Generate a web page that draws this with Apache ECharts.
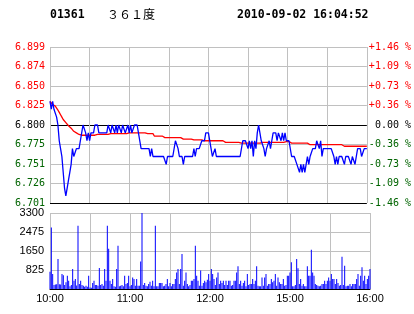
<!DOCTYPE html>
<html><head><meta charset="utf-8">
<script src="https://cdn.jsdelivr.net/npm/echarts@6/dist/echarts.min.js"></script>
<style>html,body{margin:0;padding:0;background:#fff}#c{width:414px;height:314px}</style>
</head><body><div id="c"></div>
<script>
const stockCode = '01361';
const stockName = '３６１度';
const timestamp = '2010-09-02 16:04:52';
const prevClose = 6.80;
const rowStep = 0.02475;
const priceLabels = ['6.701','6.726','6.751','6.775','6.800','6.825','6.850','6.874','6.899'];
const pctLabels = ['-1.46 %','-1.09 %','-0.73 %','-0.36 %',' 0.00 %','+0.36 %','+0.73 %','+1.09 %','+1.46 %'];
const volLabels = ['', '825', '1650', '2475', '3300'];
const timeLabels = ['10:00','','11:00','','12:00','','15:00','','16:00'];

const price = [
 6.83,6.82,6.83,6.82,6.82,6.81,6.80,6.78,6.77,6.76,
 6.74,6.72,6.71,6.72,6.73,6.74,6.75,6.77,6.76,6.76,
 6.77,6.77,6.77,6.78,6.79,6.80,6.80,6.79,6.78,6.79,
 6.78,6.79,6.79,6.79,6.80,6.80,6.80,6.79,6.79,6.79,
 6.79,6.79,6.79,6.79,6.80,6.80,6.79,6.80,6.80,6.79,
 6.80,6.79,6.80,6.80,6.79,6.80,6.80,6.79,6.79,6.80,
 6.79,6.80,6.79,6.79,6.80,6.80,6.80,6.79,6.78,6.77,
 6.77,6.77,6.77,6.77,6.77,6.77,6.76,6.77,6.76,6.76,
 6.76,6.76,6.76,6.76,6.76,6.76,6.76,6.76,6.75,6.76,
 6.76,6.76,6.76,6.76,6.76,6.78,6.78,6.77,6.76,6.76,
 6.76,6.75,6.76,6.76,6.76,6.76,6.76,6.76,6.76,6.77,
 6.76,6.77,6.77,6.77,6.77,6.78,6.78,6.78,6.79,6.79,
 6.79,6.78,6.77,6.76,6.76,6.77,6.76,6.76,6.76,6.76,
 6.76,6.76,6.76,6.76,6.76,6.76,6.76,6.76,6.76,6.76,
 6.76,6.76,6.76,6.76,6.76,6.76,6.78,6.78,6.78,6.78,
 6.77,6.78,6.77,6.78,6.76,6.78,6.77,6.79,6.80,6.79,
 6.78,6.78,6.77,6.76,6.77,6.77,6.78,6.77,6.78,6.79,
 6.79,6.79,6.78,6.79,6.79,6.78,6.79,6.78,6.79,6.78,
 6.78,6.78,6.78,6.76,6.76,6.76,6.76,6.75,6.75,6.74,
 6.75,6.74,6.75,6.74,6.75,6.76,6.75,6.76,6.76,6.77,
 6.77,6.77,6.78,6.78,6.77,6.78,6.76,6.77,6.77,6.77,
 6.77,6.77,6.77,6.77,6.77,6.76,6.75,6.76,6.75,6.76,
 6.76,6.76,6.76,6.75,6.76,6.76,6.76,6.76,6.75,6.76,
 6.76,6.75,6.76,6.77,6.77,6.77,6.76,6.76,6.77,6.77,6.77
];

const avgPrice = [
 6.830,6.828,6.826,6.825,6.824,6.822,6.819,6.816,6.813,6.810,
 6.807,6.805,6.803,6.801,6.799,6.797,6.796,6.794,6.792,6.791,
 6.790,6.789,6.788,6.787,6.787,6.787,6.787,6.787,6.787,6.787,
 6.787,6.787,6.787,6.787,6.787,6.787,6.788,6.788,6.788,6.788,
 6.788,6.788,6.788,6.788,6.788,6.789,6.789,6.789,6.789,6.789,
 6.789,6.789,6.789,6.789,6.789,6.789,6.789,6.789,6.789,6.790,
 6.790,6.790,6.790,6.790,6.790,6.790,6.790,6.790,6.790,6.790,
 6.790,6.790,6.790,6.789,6.789,6.789,6.789,6.789,6.789,6.786,
 6.786,6.786,6.786,6.786,6.786,6.786,6.786,6.784,6.784,6.784,
 6.784,6.784,6.784,6.784,6.784,6.784,6.784,6.784,6.784,6.784,
 6.784,6.782,6.782,6.782,6.782,6.782,6.782,6.782,6.781,6.781,
 6.781,6.781,6.781,6.781,6.781,6.781,6.780,6.780,6.780,6.780,
 6.780,6.780,6.780,6.780,6.780,6.780,6.780,6.780,6.780,6.780,
 6.780,6.780,6.778,6.778,6.778,6.778,6.778,6.778,6.778,6.778,
 6.778,6.778,6.778,6.778,6.778,6.777,6.777,6.777,6.777,6.777,
 6.777,6.777,6.777,6.777,6.777,6.777,6.777,6.777,6.777,6.777,
 6.777,6.778,6.778,6.778,6.778,6.778,6.778,6.778,6.778,6.778,
 6.778,6.778,6.778,6.778,6.778,6.778,6.778,6.778,6.779,6.779,
 6.779,6.779,6.779,6.777,6.777,6.777,6.777,6.777,6.777,6.777,
 6.777,6.777,6.777,6.777,6.777,6.777,6.777,6.775,6.775,6.775,
 6.775,6.775,6.775,6.775,6.775,6.775,6.775,6.775,6.775,6.775,
 6.775,6.775,6.775,6.775,6.775,6.775,6.775,6.775,6.775,6.775,
 6.775,6.775,6.775,6.773,6.773,6.773,6.773,6.773,6.773,6.773,
 6.773,6.773,6.773,6.773,6.773,6.773,6.773,6.773,6.773,6.773,6.773
];

const volume = [
 750,2670,650,170,200,210,1300,210,200,650,
 600,170,290,580,360,120,170,870,360,430,
 150,2750,220,360,170,140,100,140,100,580,
 70,50,260,360,170,170,140,910,170,220,
 140,870,360,2750,1750,360,220,430,120,100,
 870,1880,120,140,170,120,580,220,260,580,
 120,170,500,430,140,430,140,140,1190,3300,
 170,260,140,120,220,320,140,360,120,2750,
 120,120,260,260,260,120,140,220,430,120,
 260,120,220,220,430,720,870,220,870,1520,
 140,360,720,220,120,170,360,360,430,1880,
 580,360,140,800,140,260,360,290,400,650,
 360,870,650,430,170,500,720,220,360,260,
 360,170,360,170,360,360,140,170,360,360,
 720,985,220,360,140,260,360,120,650,170,
 220,220,430,220,360,985,140,120,120,500,
 140,500,650,140,220,220,430,290,360,650,
 140,500,290,220,220,430,140,170,580,580,
 720,1160,120,120,170,1300,900,220,430,140,
 220,120,120,985,580,580,1700,720,580,220,
 170,140,120,140,220,220,360,220,360,500,
 360,650,430,430,220,430,260,140,170,1400,
 170,1010,120,140,140,220,120,220,220,220,
 430,650,140,580,940,360,580,220,430,580,870
];

const RED = '#ff0000', GREEN = '#006400', GRAY = '#c0c0c0';
const toRow = p => (p - prevClose) / rowStep;
const priceData = price.map((p, i) => [i, toRow(p)]);
const avgData = avgPrice.map((p, i) => [i, toRow(p)]);
const volData = volume.map((v, i) => [i, v]);
const rowColor = v => { v = Number(v); return v > 0.01 ? RED : (v < -0.01 ? GREEN : '#000'); };
const monoFont = { fontFamily: 'DejaVu Sans Mono', fontSize: 10 };

const chart = echarts.init(document.getElementById('c'), null, { renderer: 'canvas' });
chart.setOption({
  animation: false,
  backgroundColor: '#fff',
  graphic: [
    { type: 'text', left: 50, top: 9, style: { text: stockCode, font: 'bold 11.5px "DejaVu Sans Mono"', fill: '#000' } },
    { type: 'text', left: 107, top: 8, style: { text: stockName, font: '12px "Noto Sans CJK SC"', fill: '#000' } },
    { type: 'text', left: 237, top: 9, style: { text: timestamp, font: 'bold 11.5px "DejaVu Sans Mono"', fill: '#000' } }
  ],
  grid: [
    { left: 50, top: 47, width: 320, height: 156 },
    { left: 50, top: 213, width: 320, height: 76 }
  ],
  xAxis: [
    { type: 'value', gridIndex: 0, min: 0, max: 240, interval: 30,
      axisLine: { show: false }, axisTick: { show: false }, axisLabel: { show: false },
      splitLine: { show: true, lineStyle: { color: GRAY, width: 1 } } },
    { type: 'value', gridIndex: 1, min: 0, max: 240, interval: 30,
      axisLine: { show: true, lineStyle: { color: '#000', width: 1 } }, axisTick: { show: false },
      axisLabel: { show: true, margin: 4, color: '#000', fontFamily: 'Liberation Sans', fontSize: 11,
        formatter: v => timeLabels[Math.round(v / 30)] || '' , showMinLabel: true, showMaxLabel: true },
      splitLine: { show: true, lineStyle: { color: GRAY, width: 1 } } }
  ],
  yAxis: [
    { type: 'value', gridIndex: 0, min: -4, max: 4, interval: 1, position: 'left',
      axisLine: { show: false }, axisTick: { show: false },
      axisLabel: Object.assign({ margin: 5, color: rowColor, formatter: v => priceLabels[Math.round(v) + 4] }, monoFont),
      splitLine: { show: true, lineStyle: { color: ['#000', GRAY, GRAY, GRAY, '#000', GRAY, GRAY, GRAY, GRAY], width: 1 } } },
    { type: 'value', gridIndex: 0, min: -4, max: 4, interval: 1, position: 'right',
      axisLine: { show: false }, axisTick: { show: false },
      axisLabel: Object.assign({ margin: 2, color: rowColor, formatter: v => pctLabels[Math.round(v) + 4] }, monoFont),
      splitLine: { show: false } },
    { type: 'value', gridIndex: 1, min: 0, max: 3300, interval: 825, position: 'left',
      axisLine: { show: false }, axisTick: { show: false },
      axisLabel: { margin: 6, color: '#000', fontFamily: 'Liberation Sans', fontSize: 11,
        formatter: v => volLabels[Math.round(v / 825)] },
      splitLine: { show: true, lineStyle: { color: GRAY, width: 1 } } }
  ],
  series: [
    { type: 'line', xAxisIndex: 0, yAxisIndex: 0, data: avgData, showSymbol: false, symbol: 'none',
      lineStyle: { color: RED, width: 1.3 }, z: 3 },
    { type: 'line', xAxisIndex: 0, yAxisIndex: 0, data: priceData, showSymbol: false, symbol: 'none',
      lineStyle: { color: '#0000ff', width: 1.3 }, z: 4 },
    { type: 'bar', xAxisIndex: 1, yAxisIndex: 2, data: volData, barWidth: 1,
      itemStyle: { color: '#0000ff' }, z: 3 }
  ]
});
</script></body></html>
